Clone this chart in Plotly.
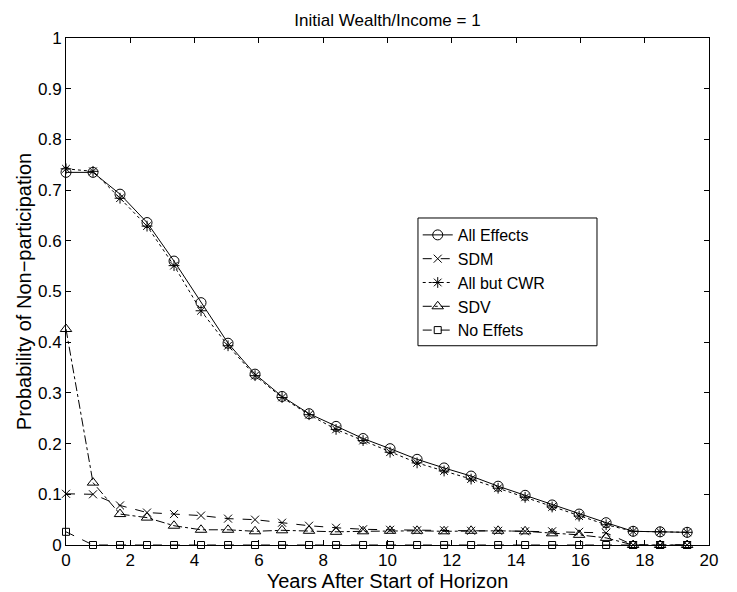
import plotly.graph_objects as go

# years after start of horizon
years = [0, 0.84, 1.68, 2.52, 3.36, 4.2, 5.04, 5.88, 6.72, 7.56, 8.4, 9.24,
         10.08, 10.92, 11.76, 12.6, 13.44, 14.28, 15.12, 15.96, 16.8, 17.64, 18.48, 19.32]

all_effects = [0.735, 0.735, 0.692, 0.636, 0.560, 0.478, 0.398, 0.337, 0.293, 0.259, 0.234, 0.210,
               0.190, 0.169, 0.152, 0.136, 0.116, 0.098, 0.079, 0.061, 0.044, 0.027, 0.026, 0.025]
sdm = [0.101, 0.100, 0.078, 0.064, 0.061, 0.058, 0.052, 0.050, 0.044, 0.038, 0.034, 0.031,
       0.030, 0.029, 0.029, 0.028, 0.028, 0.027, 0.027, 0.026, 0.024, 0, 0, 0]
all_but_cwr = [0.742, 0.737, 0.684, 0.629, 0.551, 0.462, 0.393, 0.334, 0.291, 0.257, 0.228, 0.206,
               0.183, 0.162, 0.146, 0.130, 0.112, 0.094, 0.075, 0.057, 0.040, 0.027, 0.026, 0.025]
sdv = [0.426, 0.123, 0.061, 0.054, 0.038, 0.030, 0.030, 0.027, 0.029, 0.028, 0.026, 0.027,
       0.028, 0.028, 0.027, 0.028, 0.028, 0.027, 0.023, 0.020, 0.014, 0, 0, 0]
no_effects = [0.026, 0, 0, 0, 0, 0, 0, 0, 0, 0, 0, 0,
              0, 0, 0, 0, 0, 0, 0, 0, 0, 0, 0, 0]

series = [
    ("All Effects", all_effects, "solid", "circle-open", 10),
    ("SDM", sdm, "dash", "x-thin-open", 8),
    ("All but CWR", all_but_cwr, "dot", "asterisk-open", 9),
    ("SDV", sdv, "dashdot", "triangle-up-open", 10),
    ("No Effets", no_effects, "dash", "square-open", 7),
]

fig = go.Figure()
for name, vals, dash, sym, size in series:
    fig.add_trace(go.Scatter(
        x=years, y=vals, name=name, mode="lines+markers",
        line=dict(color="black", width=1, dash=dash),
        marker=dict(symbol=sym, size=size, color="black",
                    line=dict(color="black", width=1)),
        cliponaxis=False,
    ))

font = "Liberation Sans, Arial, Helvetica, sans-serif"
fig.update_layout(
    width=737, height=592,
    margin=dict(l=66, r=28, t=38, b=47),
    paper_bgcolor="white", plot_bgcolor="white",
    font=dict(family=font, size=17, color="black"),
    title=dict(text="Initial Wealth/Income = 1", x=0.5, xref="paper",
               y=1 - 20 / 592, yanchor="middle", font=dict(size=17)),
    legend=dict(x=0.547, y=0.645, xanchor="left", yanchor="top",
                bgcolor="rgba(0,0,0,0)", borderwidth=0,
                font=dict(size=16), tracegroupgap=0, itemwidth=30),
    showlegend=True,
)
# legend frame (wider than plotly's own box, as in the original)
fig.add_shape(type="rect", xref="paper", yref="paper",
              x0=0.5474, x1=0.8258, y0=0.393, y1=0.645,
              fillcolor="white", line=dict(color="black", width=1), layer="above")

fig.update_xaxes(
    range=[0, 20], dtick=2, tick0=0, ticks="inside", ticklen=5, tickcolor="black",
    showline=True, linecolor="black", linewidth=1, mirror="ticks",
    showgrid=False, zeroline=False, ticklabelstandoff=0, automargin=False,
    title=dict(text="Years After Start of Horizon", standoff=0),
)
fig.update_yaxes(
    range=[0, 1], dtick=0.1, tick0=0, ticks="inside", ticklen=5, tickcolor="black",
    showline=True, linecolor="black", linewidth=1, mirror="ticks",
    showgrid=False, zeroline=False, ticklabelstandoff=0, automargin=False,
    title=dict(text="Probability of Non\u2212participation", standoff=0),
)

# drop the page margin so the figure sits at the window's corner
fig.write_html("out.html", config={"displayModeBar": False},
               post_script="document.body.style.margin='0';")
